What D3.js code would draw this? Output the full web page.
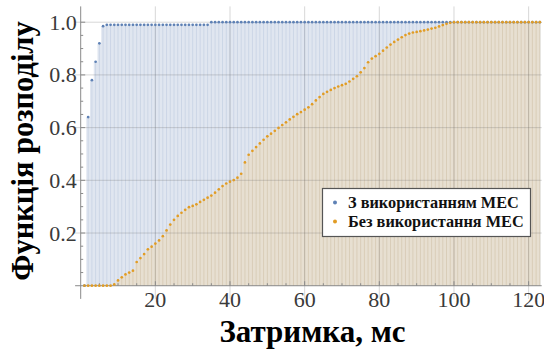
<!DOCTYPE html>
<html>
<head>
<meta charset="utf-8">
<script src="https://cdn.jsdelivr.net/npm/d3@7"></script>
<style>
  html, body { margin: 0; padding: 0; background: #fff; }
  svg { display: block; }
</style>
</head>
<body>
<svg id="chart" width="544" height="354"></svg>
<script>
// Latency grid, ms
const latency = [
  1, 2, 3, 4, 5, 6, 7, 8, 9, 10,
  11, 12, 13, 14, 15, 16, 17, 18, 19, 20,
  21, 22, 23, 24, 25, 26, 27, 28, 29, 30,
  31, 32, 33, 34, 35, 36, 37, 38, 39, 40,
  41, 42, 43, 44, 45, 46, 47, 48, 49, 50,
  51, 52, 53, 54, 55, 56, 57, 58, 59, 60,
  61, 62, 63, 64, 65, 66, 67, 68, 69, 70,
  71, 72, 73, 74, 75, 76, 77, 78, 79, 80,
  81, 82, 83, 84, 85, 86, 87, 88, 89, 90,
  91, 92, 93, 94, 95, 96, 97, 98, 99, 100,
  101, 102, 103, 104, 105, 106, 107, 108, 109, 110,
  111, 112, 113, 114, 115, 116, 117, 118, 119, 120,
  121, 122, 123
];

// CDF with MEC
const cdfWithMec = [
  0, 0.64, 0.78, 0.85, 0.92, 0.985, 0.99, 0.99, 0.99, 0.99,
  0.99, 0.99, 0.99, 0.99, 0.99, 0.99, 0.99, 0.99, 0.99, 0.99,
  0.99, 0.99, 0.99, 0.99, 0.99, 0.99, 0.99, 0.99, 0.99, 0.99,
  0.99, 0.99, 0.99, 0.99, 1, 1, 1, 1, 1, 1,
  1, 1, 1, 1, 1, 1, 1, 1, 1, 1,
  1, 1, 1, 1, 1, 1, 1, 1, 1, 1,
  1, 1, 1, 1, 1, 1, 1, 1, 1, 1,
  1, 1, 1, 1, 1, 1, 1, 1, 1, 1,
  1, 1, 1, 1, 1, 1, 1, 1, 1, 1,
  1, 1, 1, 1, 1, 1, 1, 1, 1, 1,
  1, 1, 1, 1, 1, 1, 1, 1, 1, 1,
  1, 1, 1, 1, 1, 1, 1, 1, 1, 1,
  1, 1, 1
];

// CDF without MEC
const cdfWithoutMec = [
  0, 0, 0, 0, 0, 0, 0, 0, 0.005, 0.02,
  0.032, 0.043, 0.05, 0.057, 0.09, 0.105, 0.12, 0.138, 0.148, 0.16,
  0.172, 0.188, 0.21, 0.232, 0.25, 0.265, 0.277, 0.288, 0.298, 0.303,
  0.309, 0.318, 0.326, 0.334, 0.342, 0.353, 0.366, 0.378, 0.388, 0.395,
  0.401, 0.41, 0.425, 0.468, 0.497, 0.512, 0.526, 0.54, 0.554, 0.567,
  0.577, 0.588, 0.599, 0.61, 0.62, 0.631, 0.641, 0.651, 0.659, 0.668,
  0.677, 0.689, 0.703, 0.716, 0.728, 0.736, 0.743, 0.75, 0.756, 0.761,
  0.766, 0.775, 0.785, 0.795, 0.81, 0.826, 0.848, 0.862, 0.871, 0.88,
  0.892, 0.904, 0.915, 0.925, 0.934, 0.943, 0.951, 0.957, 0.961, 0.963,
  0.966, 0.969, 0.972, 0.976, 0.979, 0.984, 0.989, 0.994, 0.998, 1,
  1, 1, 1, 1, 1, 1, 1, 1, 1, 1,
  1, 1, 1, 1, 1, 1, 1, 1, 1, 1,
  1, 1, 1
];

const seriesNames = ["З використанням МЕС", "Без використання МЕС"];
const xTickValues = [20, 40, 60, 80, 100, 120];
const yTickValues = [0.2, 0.4, 0.6, 0.8, 1.0];
const xTitle = "Затримка, мс";
const yTitle = "Функція розподілу";

const series = [
  { name: seriesNames[0], values: cdfWithMec, point: "#5e81b5", fill: "#e0e6f0", stem: "#ccd6e6" },
  { name: seriesNames[1], values: cdfWithoutMec, point: "#e19c24", fill: "#e7dfd1", stem: "#d9cdb8" }
];

const FONT = "Liberation Serif";
const svg = d3.select("#chart");

const x = d3.scaleLinear().domain([-1.5, 123.5]).range([75.1, 541.7]);
const y = d3.scaleLinear().domain([-0.05, 1.06]).range([298.9, 6.4]);

// fills under each series, with a stem at every sample
const fills = svg.append("g");
series.forEach(s => {
  const pts = latency.map((lx, i) => [lx, s.values[i]]);
  fills.append("path")
    .datum(pts)
    .attr("fill", s.fill)
    .attr("d", d3.area()
      .curve(d3.curveStep)
      .x(d => x(d[0]))
      .y0(y(0))
      .y1(d => y(d[1])));
  fills.append("g").selectAll("line")
    .data(pts.filter(d => d[1] > 0))
    .join("line")
    .attr("x1", d => x(d[0])).attr("x2", d => x(d[0]))
    .attr("y1", y(0)).attr("y2", d => y(d[1]))
    .attr("stroke", s.stem).attr("stroke-width", 1);
});

// grid lines, semi-transparent so they show through the fills
svg.append("g").selectAll("line")
  .data(yTickValues)
  .join("line")
  .attr("x1", x(-1.5)).attr("x2", x(123.5))
  .attr("y1", d => y(d)).attr("y2", d => y(d))
  .attr("stroke", "rgba(100,100,100,0.25)");
svg.append("g").selectAll("line")
  .data(xTickValues)
  .join("line")
  .attr("x1", d => x(d)).attr("x2", d => x(d))
  .attr("y1", y(1.06)).attr("y2", y(-0.05))
  .attr("stroke", "rgba(100,100,100,0.25)");

// axes crossing at the origin, ticks pointing inward
const xAxisG = svg.append("g").attr("transform", `translate(0,${y(0)})`);
xAxisG.append("line")
  .attr("x1", x(-1.5)).attr("x2", x(123.5))
  .attr("stroke", "#8a8a8a");
xAxisG.selectAll("line.minor")
  .data(d3.range(5, 124, 5).filter(v => v % 20 !== 0))
  .join("line")
  .attr("x1", d => x(d)).attr("x2", d => x(d))
  .attr("y1", 0).attr("y2", -2.5)
  .attr("stroke", "#8a8a8a");
xAxisG.selectAll("line.major")
  .data(xTickValues)
  .join("line")
  .attr("x1", d => x(d)).attr("x2", d => x(d))
  .attr("y1", 0).attr("y2", -4.5)
  .attr("stroke", "#8a8a8a");
xAxisG.selectAll("text")
  .data(xTickValues)
  .join("text")
  .attr("x", d => x(d))
  .attr("y", 21.5)
  .attr("text-anchor", "middle")
  .attr("font-family", FONT)
  .attr("font-size", 22)
  .attr("fill", "#3a3a3a")
  .text(d => d);

const yAxisG = svg.append("g").attr("transform", `translate(${x(0)},0)`);
yAxisG.append("line")
  .attr("y1", y(1.06)).attr("y2", y(-0.05))
  .attr("stroke", "#8a8a8a");
yAxisG.selectAll("line.minor")
  .data(d3.range(1, 21).map(k => k * 0.05).filter((v, i) => (i + 1) % 4 !== 0))
  .join("line")
  .attr("x1", 0).attr("x2", 2.5)
  .attr("y1", d => y(d)).attr("y2", d => y(d))
  .attr("stroke", "#8a8a8a");
yAxisG.selectAll("line.major")
  .data(yTickValues)
  .join("line")
  .attr("x1", 0).attr("x2", 4.5)
  .attr("y1", d => y(d)).attr("y2", d => y(d))
  .attr("stroke", "#8a8a8a");
yAxisG.selectAll("text")
  .data(yTickValues)
  .join("text")
  .attr("x", -4)
  .attr("y", d => y(d))
  .attr("dy", "0.34em")
  .attr("text-anchor", "end")
  .attr("font-family", FONT)
  .attr("font-size", 22)
  .attr("fill", "#3a3a3a")
  .text(d => d3.format(".1f")(d));

// data points
series.forEach(s => {
  svg.append("g").selectAll("circle")
    .data(latency.map((lx, i) => [lx, s.values[i]]))
    .join("circle")
    .attr("cx", d => x(d[0]))
    .attr("cy", d => y(d[1]))
    .attr("r", 1.35)
    .attr("fill", s.point);
});

// axis titles
svg.append("text")
  .attr("x", 312.5)
  .attr("y", 342)
  .attr("text-anchor", "middle")
  .attr("font-family", FONT)
  .attr("font-weight", "bold")
  .attr("font-size", 31)
  .attr("fill", "#000")
  .text(xTitle);

svg.append("text")
  .attr("transform", "translate(33,151) rotate(-90)")
  .attr("text-anchor", "middle")
  .attr("font-family", FONT)
  .attr("font-weight", "bold")
  .attr("font-size", 30.5)
  .attr("fill", "#000")
  .text(yTitle);

// legend
const legend = svg.append("g");
legend.append("rect")
  .attr("x", 322.5).attr("y", 188.5)
  .attr("width", 208).attr("height", 48)
  .attr("fill", "#fff")
  .attr("stroke", "#555").attr("stroke-width", 1.2);
series.forEach((s, i) => {
  const cy = 202.5 + i * 19;
  legend.append("circle")
    .attr("cx", 335).attr("cy", cy).attr("r", 2)
    .attr("fill", s.point);
  legend.append("text")
    .attr("x", 348).attr("y", cy)
    .attr("dy", "0.35em")
    .attr("font-family", FONT)
    .attr("font-weight", "bold")
    .attr("font-size", 16.3)
    .attr("fill", "#111")
    .text(s.name);
});
</script>
</body>
</html>
